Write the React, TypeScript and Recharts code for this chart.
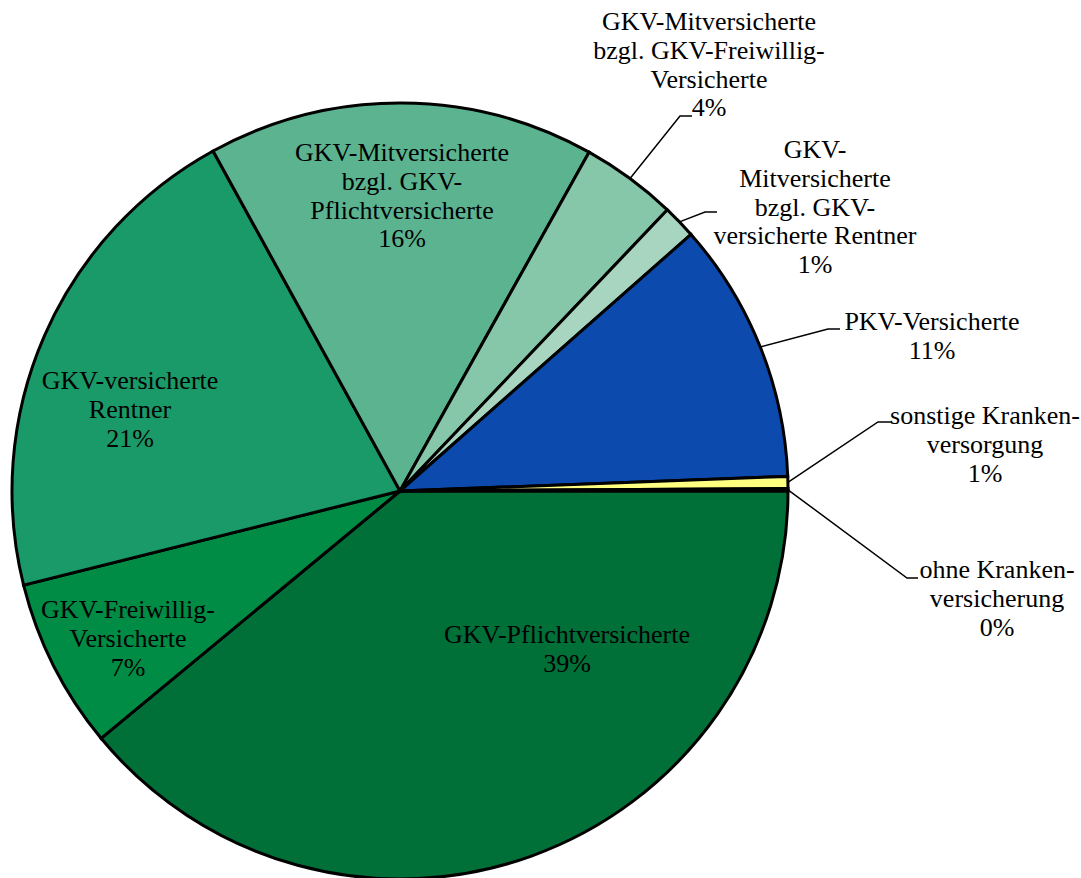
import React from "react";
import { PieChart, Pie, Cell } from "recharts";

const categories: string[] = [
  "GKV-Pflichtversicherte",
  "GKV-Freiwillig-Versicherte",
  "GKV-versicherte Rentner",
  "GKV-Mitversicherte bzgl. GKV-Pflichtversicherte",
  "GKV-Mitversicherte bzgl. GKV-Freiwillig-Versicherte",
  "GKV-Mitversicherte bzgl. GKV-versicherte Rentner",
  "PKV-Versicherte",
  "sonstige Krankenversorgung",
  "ohne Krankenversicherung",
];

const values: number[] = [39.0, 7.1, 20.9, 16.1, 4.0, 1.4, 10.9, 0.5, 0.1];

const labelLines: string[][] = [
  ["GKV-Pflichtversicherte"],
  ["GKV-Freiwillig-", "Versicherte"],
  ["GKV-versicherte", "Rentner"],
  ["GKV-Mitversicherte", "bzgl. GKV-", "Pflichtversicherte"],
  ["GKV-Mitversicherte", "bzgl. GKV-Freiwillig-", "Versicherte"],
  ["GKV-", "Mitversicherte", "bzgl. GKV-", "versicherte Rentner"],
  ["PKV-Versicherte"],
  ["sonstige Kranken-", "versorgung"],
  ["ohne Kranken-", "versicherung"],
];

const colors: string[] = [
  "#006f38",
  "#008c44",
  "#1a9a68",
  "#5bb390",
  "#86c6a9",
  "#a8d5bf",
  "#0c4aad",
  "#ffff80",
  "#0a2a1a",
];

// label layout: center x, first baseline y, optional leader elbow [ex, ey, hx]
type LabelPos = { x: number; y: number; elbow?: [number, number, number] };
const labelLayout: LabelPos[] = [
  { x: 567, y: 643 },
  { x: 128, y: 618 },
  { x: 130, y: 389 },
  { x: 402, y: 161 },
  { x: 709, y: 30, elbow: [680, 116, 692] },
  { x: 815, y: 158, elbow: [705, 212, 717] },
  { x: 932, y: 330, elbow: [828, 329, 840] },
  { x: 985, y: 424, elbow: [878, 422, 892] },
  { x: 997, y: 578, elbow: [907, 578, 918] },
];

const total = values.reduce((a, b) => a + b, 0);
const data = categories.map((name, i) => ({ name, value: values[i] }));

const RAD = Math.PI / 180;
const LINE_H = 28.8;
const FONT = "'Liberation Serif', 'Times New Roman', serif";

const renderLabel = (props: any) => {
  const { cx, cy, midAngle, outerRadius, index } = props;
  const pos = labelLayout[index];
  const pct = Math.round((values[index] / total) * 100 + 1e-9);
  const lines = [...labelLines[index], `${pct}%`];
  let leader: React.ReactNode = null;
  if (pos.elbow) {
    const sx = cx + outerRadius * Math.cos(-midAngle * RAD);
    const sy = cy + outerRadius * Math.sin(-midAngle * RAD);
    const [ex, ey, hx] = pos.elbow;
    leader = (
      <polyline
        points={`${sx},${sy} ${ex},${ey} ${hx},${ey}`}
        fill="none"
        stroke="#000"
        strokeWidth={1.5}
      />
    );
  }
  return (
    <g key={`lbl-${index}`}>
      {leader}
      <text
        x={pos.x}
        y={pos.y}
        textAnchor="middle"
        fill="#000"
        fontFamily={FONT}
        fontSize={26}
        style={{ fontFamily: FONT, fontSize: 26 }}
      >
        {lines.map((l, i) => (
          <tspan key={i} x={pos.x} dy={i === 0 ? 0 : LINE_H}>
            {l}
          </tspan>
        ))}
      </text>
    </g>
  );
};

export default function App() {
  return (
    <div style={{ position: "absolute", left: 0, top: 0, width: 1081, height: 878, background: "#fff" }}>
      <PieChart width={1081} height={878} margin={{ top: 0, right: 0, bottom: 0, left: 0 }}>
        <Pie
          data={data}
          dataKey="value"
          nameKey="name"
          cx={400}
          cy={491}
          outerRadius={388}
          startAngle={0}
          endAngle={-360}
          stroke="#000"
          strokeWidth={3}
          label={renderLabel}
          labelLine={false}
          isAnimationActive={false}
        >
          {data.map((d, i) => (
            <Cell key={d.name} fill={colors[i]} />
          ))}
        </Pie>
      </PieChart>
    </div>
  );
}
